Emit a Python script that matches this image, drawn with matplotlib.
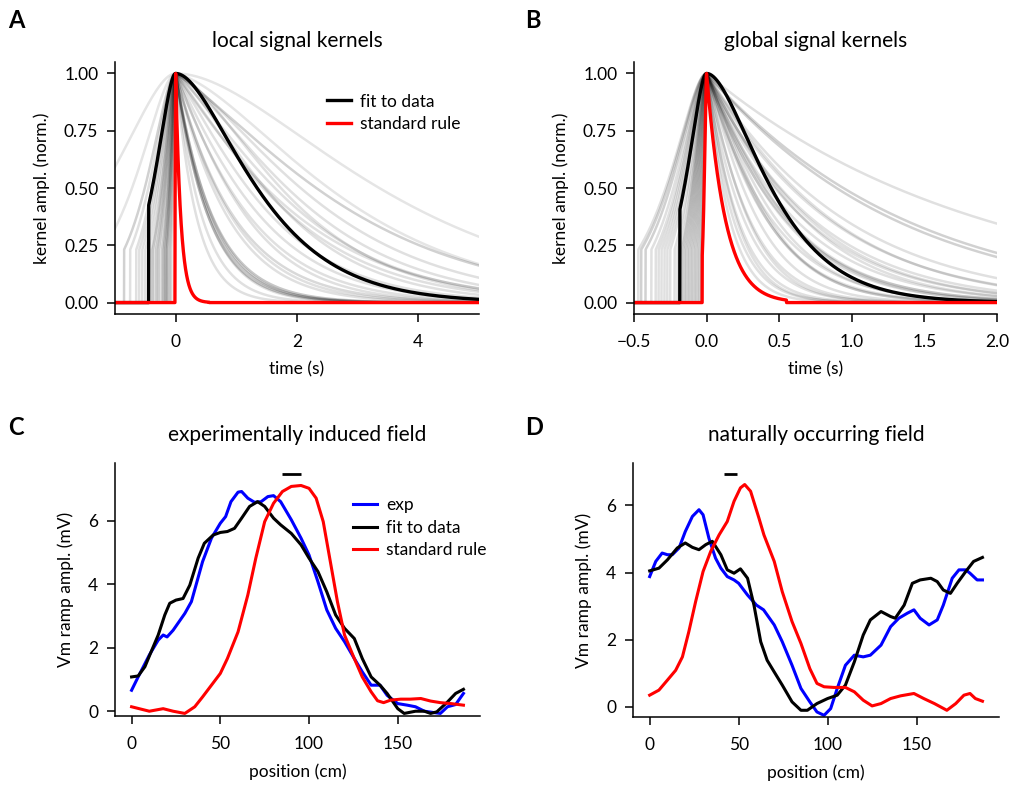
import numpy as np
import matplotlib.pyplot as plt

plt.rcParams['font.family'] = ['Lato', 'DejaVu Sans']
plt.rcParams['font.size'] = 12.5
plt.rcParams['axes.linewidth'] = 1.1
plt.rcParams['xtick.major.width'] = 1.1
plt.rcParams['ytick.major.width'] = 1.1
plt.rcParams['xtick.major.size'] = 6
plt.rcParams['ytick.major.size'] = 6
plt.rcParams['xtick.major.pad'] = 8.5
plt.rcParams['ytick.major.pad'] = 6
plt.rcParams['axes.labelpad'] = 8

# ---- kernel parameters read off panels A and B ----
# rise truncation (s), decay scale (s), shoulder (0=exp, 1=alpha)
A_trunc = [2.0, 0.85, 0.75, 0.65, 0.55, 0.50, 0.45, 0.40, 0.35, 0.32, 0.28, 0.25,
           0.22, 0.20, 0.17, 0.15, 0.13, 0.11, 0.09, 0.07, 0.60, 1.20, 0.30, 0.38]
A_decay = [2.0, 1.7, 1.4, 1.25, 1.2, 1.15, 1.0, 0.95, 0.9, 0.85, 0.75, 0.7,
           0.65, 0.62, 0.58, 0.55, 0.5, 0.45, 0.4, 0.35, 1.1, 1.6, 1.3, 0.8]
A_shoulder = [1.0, 0.7, 0.8, 0.8, 0.7, 0.6, 0.8, 0.6, 0.5, 0.4, 0.5, 0.3,
              0.3, 0.0, 0.0, 0.0, 0.2, 0.2, 0.1, 0.0, 0.9, 0.9, 0.5, 0.2]
A_shade = [0.10, 0.18, 0.12, 0.12, 0.12, 0.12, 0.12, 0.12, 0.12, 0.12, 0.12, 0.12,
           0.12, 0.22, 0.22, 0.22, 0.12, 0.12, 0.12, 0.12, 0.12, 0.10, 0.12, 0.15]

B_trunc = [0.47, 0.45, 0.42, 0.38, 0.35, 0.33, 0.31, 0.29, 0.27, 0.25, 0.22, 0.20,
           0.18, 0.17, 0.16, 0.15, 0.14, 0.13, 0.12, 0.11, 0.10, 0.09, 0.08,
           0.07, 0.06, 0.05, 0.04, 0.035]
B_decay = [1.7, 1.0, 0.95, 0.7, 0.62, 0.58, 0.54, 0.48, 0.45, 0.42, 0.40, 0.38,
           0.35, 0.33, 0.30, 0.28, 0.25, 0.22, 0.20, 0.18, 0.16, 0.14, 0.13,
           0.5, 0.36, 0.26, 0.19, 0.15]
B_shoulder = [0.1, 0.3, 0.3, 0.3, 0.3, 0.4, 0.3, 0.4, 0.3, 0.5, 0.3, 0.4,
              0.5, 0.3, 0.5, 0.4, 0.6, 0.5, 0.4, 0.5, 0.3, 0.4, 0.2,
              0.3, 0.4, 0.5, 0.3, 0.2]
B_shade = [0.12, 0.18, 0.18, 0.12, 0.12, 0.12, 0.12, 0.12, 0.12, 0.12, 0.12, 0.12,
           0.12, 0.12, 0.12, 0.12, 0.12, 0.12, 0.12, 0.12, 0.12, 0.12, 0.12,
           0.12, 0.12, 0.12, 0.12, 0.12]
GRAY_RISE_RATIO = 2.8  # truncation / rise scale for the gray kernels

# fitted and standard kernels: rise, trunc, decay, shoulder, end
A_fit = (0.23, 0.445, 0.80, 1.0, 99.0)
A_std = (0.005, 0.012, 0.085, 0.0, 0.55)
B_fit = (0.092, 0.184, 0.265, 1.0, 99.0)
B_std = (0.010, 0.030, 0.105, 0.2, 0.55)

# ---- ramp traces, panel C ----
C_exp_x = [0, 3.7, 10, 15, 17.8, 20, 23.4, 30, 33.7, 40, 45, 50, 53, 56, 60, 62, 65.5,
           69.3, 73, 76.8, 80, 84, 90, 95.5, 100, 105, 110, 115, 120, 125.5, 130, 135,
           140, 144, 150, 155.4, 160, 165, 170, 174, 178, 182.6, 187]
C_exp_y = [0.66, 1.08, 1.77, 2.24, 2.40, 2.34, 2.55, 3.08, 3.45, 4.71, 5.45, 5.92, 6.13,
           6.6, 6.9, 6.92, 6.71, 6.58, 6.6, 6.76, 6.79, 6.6, 6.03, 5.45, 4.92, 4.08, 3.19,
           2.61, 2.19, 1.66, 1.24, 0.82, 0.82, 0.5, 0.24, 0.19, 0.14, 0.0, -0.04, -0.07,
           0.14, 0.21, 0.56]
C_fit_x = [0, 3.7, 7.5, 11, 15, 18.7, 21.5, 25, 29, 32.8, 37.5, 41, 46, 50, 54, 58, 62,
           66.5, 71, 75, 80, 84, 90, 95.5, 100, 105, 110, 115, 120, 125.5, 130, 135, 140,
           144, 150, 153.6, 160, 165, 168.5, 172, 178, 182.6, 187]
C_fit_y = [1.08, 1.11, 1.40, 1.87, 2.40, 3.03, 3.40, 3.50, 3.55, 3.97, 4.82, 5.29, 5.55,
           5.63, 5.66, 5.76, 6.08, 6.45, 6.6, 6.45, 6.08, 5.87, 5.6, 5.24, 4.82, 4.40,
           3.76, 3.03, 2.61, 2.29, 1.66, 1.08, 0.82, 0.56, 0.08, -0.07, 0.0, 0.0, -0.07,
           -0.02, 0.29, 0.56, 0.69]
C_std_x = [0, 10, 17.8, 23.4, 30, 35.6, 40, 45, 50, 54, 60, 65.5, 70, 75, 80, 85, 90,
           95.5, 100, 104, 108, 112, 116, 120, 125.5, 130, 135, 138.6, 142, 146, 151.7,
           157, 163, 168.5, 174, 180, 187]
C_std_y = [0.14, 0.0, 0.08, 0.0, -0.07, 0.14, 0.45, 0.82, 1.19, 1.66, 2.50, 3.66, 4.82,
           5.97, 6.55, 6.92, 7.08, 7.11, 7.02, 6.71, 5.97, 4.71, 3.45, 2.40, 1.66, 1.08,
           0.61, 0.33, 0.27, 0.35, 0.38, 0.38, 0.40, 0.32, 0.27, 0.24, 0.19]

# ---- ramp traces, panel D ----
D_exp_x = [0, 3.4, 7, 10, 12.7, 16.5, 20, 24, 27.7, 30, 33.3, 37, 40, 43.6, 47.4, 50, 55,
           60, 64, 70, 74.5, 80, 85, 90, 94, 98, 101.7, 105.4, 110, 115, 120, 124, 130,
           135.4, 140, 144.8, 148.5, 152, 157, 161.6, 165, 170, 173.8, 177.6, 180, 184, 187]
D_exp_y = [3.88, 4.33, 4.58, 4.53, 4.53, 4.73, 5.22, 5.67, 5.87, 5.72, 5.02, 4.43, 4.13,
           3.88, 3.78, 3.68, 3.33, 3.03, 2.89, 2.44, 1.94, 1.24, 0.55, 0.15, -0.15, -0.25,
           -0.05, 0.55, 1.24, 1.54, 1.49, 1.54, 1.84, 2.39, 2.64, 2.79, 2.89, 2.64, 2.44,
           2.59, 3.03, 3.83, 4.08, 4.08, 3.98, 3.78, 3.78]
D_fit_x = [0, 5.2, 10, 15.5, 20, 24, 27.7, 31.5, 35.2, 40, 43.6, 47.4, 51, 55, 58.6, 62.4,
           66, 70, 74.5, 80, 85, 88.6, 94, 100, 105.4, 110, 115, 120, 124, 130, 135.4, 138,
           143, 147.6, 152, 158, 161.6, 165, 169, 172.8, 177.6, 182, 187]
D_fit_y = [4.05, 4.13, 4.38, 4.73, 4.88, 4.75, 4.68, 4.83, 4.93, 4.53, 4.08, 3.98, 4.11,
           3.83, 3.03, 1.94, 1.39, 1.04, 0.65, 0.15, -0.10, -0.10, 0.10, 0.25, 0.35, 0.65,
           1.34, 2.14, 2.59, 2.84, 2.69, 2.64, 3.03, 3.68, 3.78, 3.83, 3.73, 3.48, 3.38,
           3.68, 4.03, 4.33, 4.45]
D_std_x = [0, 5.2, 10, 14.6, 18.4, 22, 25.8, 30, 34.3, 39, 43.6, 47.4, 51, 53.4, 56.7,
           61.4, 64.2, 70, 74.5, 80, 85, 90, 94, 98, 103.6, 110, 115, 120, 125, 130, 135.4,
           141, 148.5, 154, 160, 167, 172, 176.6, 180, 183, 187]
D_std_y = [0.35, 0.50, 0.80, 1.09, 1.49, 2.24, 3.13, 4.03, 4.63, 5.12, 5.52, 6.12, 6.52,
           6.62, 6.42, 5.62, 5.12, 4.33, 3.43, 2.54, 1.89, 1.14, 0.70, 0.60, 0.58, 0.58,
           0.45, 0.20, 0.03, 0.10, 0.25, 0.33, 0.40, 0.25, 0.10, -0.10, 0.10, 0.35, 0.40,
           0.25, 0.17]

# place field markers (start, end, height)
C_bar = (84.7, 95.5, 7.47)
D_bar = (42.0, 49.0, 6.94)


def kernel(t, rise, trunc, decay, shoulder, end=99.0):
    y = np.zeros_like(t)
    r = (t <= 0) & (t >= -trunc)
    u = -t[r] / rise
    y[r] = (1 + u) * np.exp(-u)
    d = (t > 0) & (t <= end)
    v = t[d] / decay
    y[d] = (1 + shoulder * v) * np.exp(-v)
    return y


def style(ax):
    for s in ['top', 'right']:
        ax.spines[s].set_visible(False)


fig = plt.figure(figsize=(10.14, 7.9), dpi=100)
axA = fig.add_axes([0.1134, 0.6025, 0.359, 0.319])
axB = fig.add_axes([0.6252, 0.6025, 0.358, 0.319])
axC = fig.add_axes([0.1134, 0.0937, 0.360, 0.3203])
axD = fig.add_axes([0.6243, 0.0924, 0.361, 0.3215])

# A
t = np.linspace(-1.0, 5.0, 6001)
for i in range(len(A_trunc)):
    y = kernel(t, A_trunc[i] / GRAY_RISE_RATIO, A_trunc[i], A_decay[i], A_shoulder[i])
    axA.plot(t, y, color='k', alpha=A_shade[i], lw=1.8)
axA.plot(t, kernel(t, *A_fit), color='k', lw=2.4, label='fit to data')
axA.plot(t, kernel(t, *A_std), color='#ff0000', lw=2.4, label='standard rule')
axA.set_xlim(-1, 5)
axA.set_ylim(-0.05, 1.05)
axA.set_xticks([0, 2, 4])
axA.set_yticks([0, 0.25, 0.5, 0.75, 1.0])
axA.set_yticklabels(['0.00', '0.25', '0.50', '0.75', '1.00'])
axA.set_xlabel('time (s)')
axA.set_ylabel('kernel ampl. (norm.)', labelpad=10)
axA.set_title('local signal kernels', pad=11)
axA.legend(loc='upper left', bbox_to_anchor=(0.582, 0.875), frameon=False,
           handlelength=1.4, handletextpad=0.5, labelspacing=0.35,
           borderpad=0, borderaxespad=0)
style(axA)

# B
t = np.linspace(-0.5, 2.0, 5001)
for i in range(len(B_trunc)):
    y = kernel(t, B_trunc[i] / GRAY_RISE_RATIO, B_trunc[i], B_decay[i], B_shoulder[i])
    axB.plot(t, y, color='k', alpha=B_shade[i], lw=1.8)
axB.plot(t, kernel(t, *B_fit), color='k', lw=2.4)
axB.plot(t, kernel(t, *B_std), color='#ff0000', lw=2.4)
axB.set_xlim(-0.5, 2.0)
axB.set_ylim(-0.05, 1.05)
axB.set_xticks([-0.5, 0, 0.5, 1.0, 1.5, 2.0])
axB.set_yticks([0, 0.25, 0.5, 0.75, 1.0])
axB.set_yticklabels(['0.00', '0.25', '0.50', '0.75', '1.00'])
axB.set_xlabel('time (s)')
axB.set_ylabel('kernel ampl. (norm.)', labelpad=10)
axB.set_title('global signal kernels', pad=11)
style(axB)

# C
axC.plot(C_exp_x, C_exp_y, color='#0000ff', lw=2.2, label='exp')
axC.plot(C_fit_x, C_fit_y, color='k', lw=2.2, label='fit to data')
axC.plot(C_std_x, C_std_y, color='#ff0000', lw=2.2, label='standard rule')
axC.hlines(C_bar[2], C_bar[0], C_bar[1], color='k', lw=2)
axC.set_xlim(-9.35, 196.35)
axC.set_ylim(-0.15, 7.82)
axC.set_xticks([0, 50, 100, 150])
axC.set_yticks([0, 2, 4, 6])
axC.set_xlabel('position (cm)')
axC.set_ylabel('Vm ramp ampl. (mV)', labelpad=10)
axC.set_title('experimentally induced field', pad=16)
axC.legend(loc='upper left', bbox_to_anchor=(0.652, 0.865), frameon=False,
           handlelength=1.4, handletextpad=0.5, labelspacing=0.38,
           borderpad=0, borderaxespad=0)
style(axC)

# D
axD.plot(D_exp_x, D_exp_y, color='#0000ff', lw=2.2)
axD.plot(D_fit_x, D_fit_y, color='k', lw=2.2)
axD.plot(D_std_x, D_std_y, color='#ff0000', lw=2.2)
axD.hlines(D_bar[2], D_bar[0], D_bar[1], color='k', lw=2)
axD.set_xlim(-9.35, 196.35)
axD.set_ylim(-0.3, 7.26)
axD.set_xticks([0, 50, 100, 150])
axD.set_yticks([0, 2, 4, 6])
axD.set_xlabel('position (cm)')
axD.set_ylabel('Vm ramp ampl. (mV)', labelpad=10)
axD.set_title('naturally occurring field', pad=16)
style(axD)

for lab, x, y in [('A', 0.008, 0.988), ('B', 0.518, 0.988),
                  ('C', 0.008, 0.474), ('D', 0.518, 0.474)]:
    fig.text(x, y, lab, fontsize=17, fontweight='bold', va='top')

fig.savefig('out.png', dpi=100)
